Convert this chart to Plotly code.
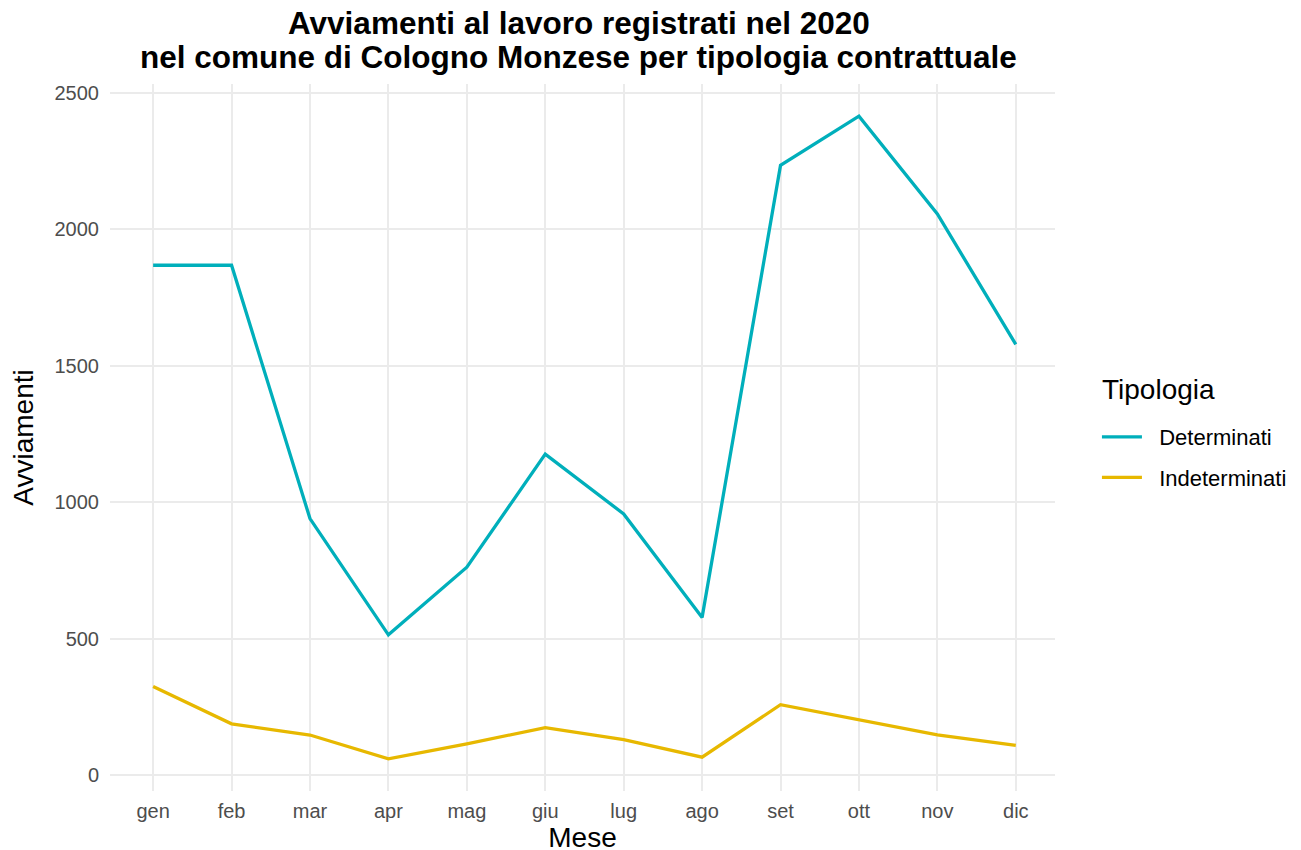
import plotly.graph_objects as go

mesi = ['gen', 'feb', 'mar', 'apr', 'mag', 'giu', 'lug', 'ago', 'set', 'ott', 'nov', 'dic']
determinati = [1869, 1869, 941, 515, 763, 1177, 958, 579, 2235, 2415, 2057, 1579]
indeterminati = [326, 189, 148, 61, 116, 175, 131, 67, 259, 205, 149, 110]

titolo = ['Avviamenti al lavoro registrati nel 2020',
          'nel comune di Cologno Monzese per tipologia contrattuale']

pad = '\u00a0\u00a0'
fig = go.Figure()
fig.add_trace(go.Scatter(x=mesi, y=determinati, name=pad + 'Determinati', mode='lines',
                         legendgroup='d', line=dict(color='#00AFBB', width=3.3)))
fig.add_trace(go.Scatter(x=mesi, y=indeterminati, name=pad + 'Indeterminati', mode='lines',
                         legendgroup='i', line=dict(color='#E7B800', width=3.3)))

# title as two annotations so the line spacing matches
for testo, yy in zip(titolo, [1.0867, 1.0382]):
    fig.add_annotation(text='<b>' + testo + '</b>', xref='paper', yref='paper',
                       x=0.4958, y=yy, xanchor='center', yanchor='middle', showarrow=False,
                       font=dict(size=31.5, color='black'))

# legend title placed separately to get the ggplot spacing
fig.add_annotation(text='Tipologia', xref='paper', yref='paper', x=1.0476, y=0.5672,
                   xanchor='left', yanchor='middle', showarrow=False,
                   font=dict(size=28, color='black'))

fig.update_layout(
    width=1301, height=850,
    margin=dict(l=102, r=254, t=76, b=67),
    paper_bgcolor='white', plot_bgcolor='white',
    font=dict(family='Liberation Sans, Arial, sans-serif', color='black'),
    legend=dict(font=dict(size=22),
                xref='container', yref='container',
                x=0.837, xanchor='left', y=0.4712, yanchor='middle',
                itemwidth=40, tracegroupgap=9),
    xaxis=dict(title=dict(text='Mese', font=dict(size=28), standoff=3),
               range=[-0.55, 11.5], showgrid=True, gridcolor='#EBEBEB', gridwidth=2,
               zeroline=False, showline=False, ticks='', automargin=False,
               ticklabelstandoff=6,
               tickfont=dict(size=20, color='#4D4D4D')),
    yaxis=dict(title=dict(text='Avviamenti', font=dict(size=28), standoff=14),
               range=[-57, 2533], tickvals=[0, 500, 1000, 1500, 2000, 2500],
               showgrid=True, gridcolor='#EBEBEB', gridwidth=2,
               zeroline=False, showline=False, ticks='', automargin=False,
               ticklabelstandoff=10,
               tickfont=dict(size=20, color='#4D4D4D')),
)

fig.write_html("out.html")
